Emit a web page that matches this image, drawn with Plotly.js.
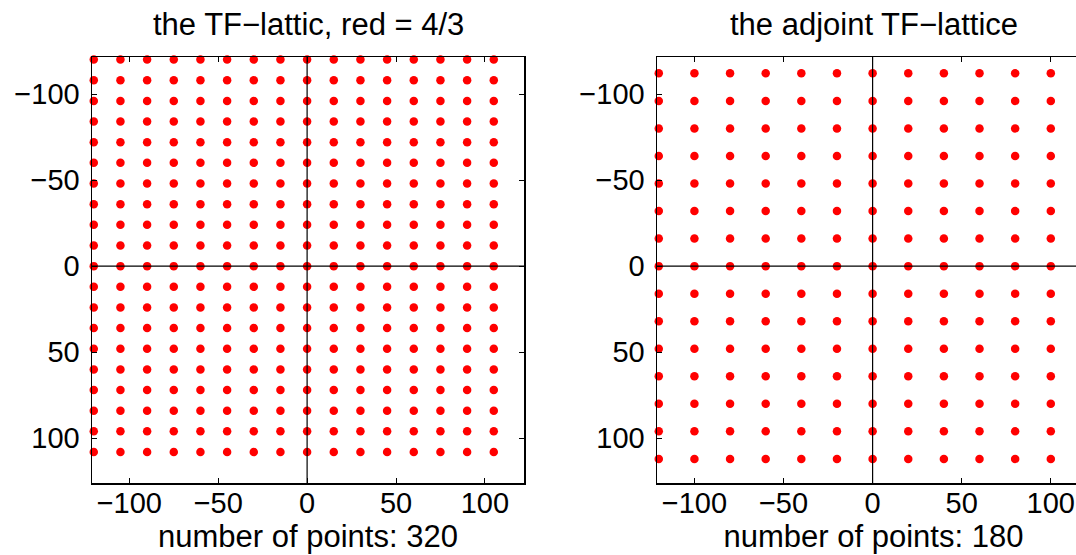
<!DOCTYPE html>
<html>
<head>
<meta charset="utf-8">
<script src="https://cdn.plot.ly/plotly-3.0.1.min.js"></script>
<style>
html, body { margin: 0; padding: 0; overflow: hidden; background: #fff; }
#chart { width: 1100px; height: 555px; }
</style>
</head>
<body>
<div id="chart"></div>
<script>
// Lattice coordinates
const leftCols  = [-120, -105, -90, -75, -60, -45, -30, -15, 0, 15, 30, 45, 60, 75, 90, 105];
const leftRows  = [-120, -108, -96, -84, -72, -60, -48, -36, -24, -12, 0, 12, 24, 36, 48, 60, 72, 84, 96, 108];
const rightCols = [-120, -100, -80, -60, -40, -20, 0, 20, 40, 60, 80, 100];
const rightRows = [-112, -96, -80, -64, -48, -32, -16, 0, 16, 32, 48, 64, 80, 96, 112];
const tickValues = [-100, -50, 0, 50, 100];
const leftTitle  = "the TF\u2212lattic, red = 4/3";
const rightTitle = "the adjoint TF\u2212lattice";
const leftCount  = 320;
const rightCount = 180;

function grid(cols, rows) {
  const xs = [], ys = [];
  cols.forEach(c => rows.forEach(r => { xs.push(c); ys.push(r); }));
  return {xs, ys};
}
const L = grid(leftCols, leftRows);
const R = grid(rightCols, rightRows);

const FONT = "Liberation Sans, Arial, Helvetica, sans-serif";
const FS = 31;     // titles
const TFS = 29;    // tick labels
const marker = {color: "#ff0000", size: 8.5, symbol: "circle"};

const traces = [
  {type: "scatter", mode: "markers", x: L.xs, y: L.ys, xaxis: "x", yaxis: "y", marker: marker, hoverinfo: "x+y", cliponaxis: false},
  {type: "scatter", mode: "markers", x: R.xs, y: R.ys, xaxis: "x2", yaxis: "y2", marker: marker, hoverinfo: "x+y", cliponaxis: false}
];

function axisBase() {
  return {
    showline: true, linecolor: "#000", linewidth: 1.5, mirror: "ticks",
    ticks: "inside", ticklen: 5, tickwidth: 1, tickcolor: "#000",
    tickvals: tickValues, showgrid: false, zeroline: false,
    tickfont: {family: FONT, size: TFS, color: "#000"},
    fixedrange: true
  };
}
const W = 1100, H = 555;
const xa = Object.assign(axisBase(), {
  domain: [92 / W, 524 / W], range: [-121, 122], anchor: "y", ticklabelstandoff: -6,
  title: {text: "number of points: " + leftCount, font: {family: FONT, size: FS, color: "#000"}, standoff: 2}
});
const ya = Object.assign(axisBase(), {
  domain: [(H - 483) / H, (H - 57) / H], range: [126, -121.5], anchor: "x", ticklabelstandoff: 5
});
const xa2 = Object.assign(axisBase(), {
  domain: [657 / W, 1090 / W], range: [-121, 122], anchor: "y2", ticklabelstandoff: -6,
  title: {text: "number of points: " + rightCount, font: {family: FONT, size: FS, color: "#000"}, standoff: 2}
});
const ya2 = Object.assign(axisBase(), {
  domain: [(H - 483) / H, (H - 57) / H], range: [126, -121.5], anchor: "x2", ticklabelstandoff: 5
});

function crossLines(xr, yr) {
  return [
    {type: "line", xref: xr + " domain", yref: yr, x0: 0, x1: 1, y0: 0, y1: 0, layer: "above", line: {color: "#000", width: 1.2}},
    {type: "line", xref: xr, yref: yr + " domain", x0: 0, x1: 0, y0: 0, y1: 1, layer: "above", line: {color: "#000", width: 1.2}}
  ];
}

const layout = {
  width: W, height: H,
  margin: {l: 0, r: 0, t: 0, b: 0},
  paper_bgcolor: "#fff", plot_bgcolor: "#fff",
  showlegend: false,
  font: {family: FONT, color: "#000", size: FS},
  xaxis: xa, yaxis: ya, xaxis2: xa2, yaxis2: ya2,
  shapes: crossLines("x", "y").concat(crossLines("x2", "y2")),
  annotations: [
    {text: leftTitle, xref: "paper", yref: "paper", x: (92 + 524) / 2 / W, y: (H - 25) / H,
     xanchor: "center", yanchor: "middle", showarrow: false, font: {family: FONT, size: FS, color: "#000"}},
    {text: rightTitle, xref: "paper", yref: "paper", x: (657 + 1090) / 2 / W, y: (H - 25) / H,
     xanchor: "center", yanchor: "middle", showarrow: false, font: {family: FONT, size: FS, color: "#000"}}
  ]
};

Plotly.newPlot("chart", traces, layout, {displayModeBar: false, staticPlot: true});
</script>
</body>
</html>
